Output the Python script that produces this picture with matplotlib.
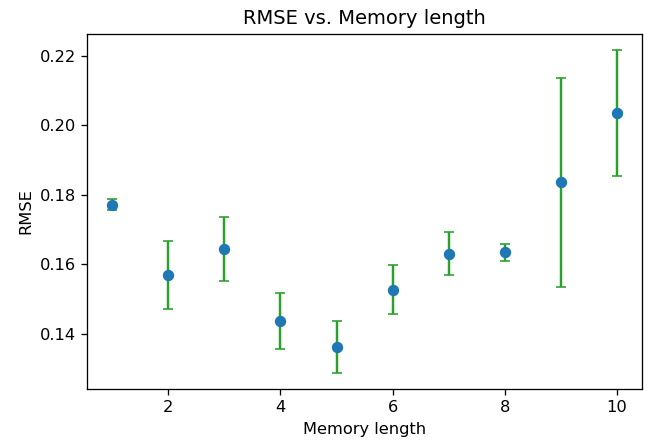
import numpy as np
import matplotlib
matplotlib.use('Agg')
import matplotlib.pyplot as plt

# memory lengths and results
mem_len = [1, 2, 3, 4, 5, 6, 7, 8, 9, 10]
rmse_mean = [0.1771, 0.1569, 0.1643, 0.1437, 0.1362, 0.1527, 0.1630, 0.1634, 0.1836, 0.2036]
rmse_std = [0.0016, 0.0099, 0.0092, 0.0080, 0.0075, 0.0071, 0.0062, 0.0024, 0.0301, 0.0181]

dpi = 117
fig = plt.figure(figsize=(648 / dpi, 443 / dpi), dpi=dpi)
ax = fig.add_axes([0.1343, 0.1219, 0.8565, 0.8014])

ax.errorbar(mem_len, rmse_mean, yerr=rmse_std, fmt='o', color='tab:blue',
            ecolor='tab:green', capsize=3)
ax.set_title('RMSE vs. Memory length')
ax.set_xlabel('Memory length')
ax.set_ylabel('RMSE')

fig.savefig('out.png', dpi=dpi)
